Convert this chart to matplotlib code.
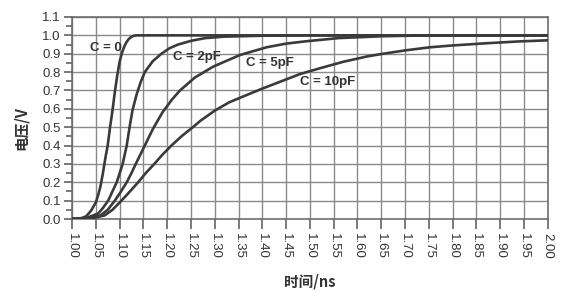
import matplotlib
matplotlib.use("Agg")
import matplotlib.pyplot as plt
from matplotlib.ticker import MultipleLocator, FormatStrFormatter

plt.rcParams['font.family'] = ['Liberation Sans', 'Noto Sans CJK SC', 'DejaVu Sans']

# values (time in ns, voltage in V)
t_c0 = [1.00, 1.02, 1.03, 1.04, 1.05, 1.055, 1.06, 1.065, 1.07, 1.075, 1.08, 1.085,
        1.09, 1.095, 1.10, 1.105, 1.11, 1.115, 1.12, 1.125, 1.13, 1.135, 2.00]
v_c0 = [0.0, 0.005, 0.015, 0.045, 0.09, 0.13, 0.18, 0.25, 0.33, 0.40, 0.50, 0.59,
        0.69, 0.78, 0.855, 0.905, 0.94, 0.965, 0.982, 0.992, 0.998, 1.0, 1.0]

t_c2 = [1.00, 1.03, 1.045, 1.055, 1.065, 1.076, 1.085, 1.094, 1.1065, 1.115, 1.121,
        1.127, 1.136, 1.145, 1.153, 1.17, 1.188, 1.205, 1.223, 1.25, 1.28, 1.32,
        1.40, 1.50, 2.00]
v_c2 = [0.0, 0.005, 0.02, 0.03, 0.06, 0.10, 0.15, 0.20, 0.30, 0.40, 0.50,
        0.59, 0.68, 0.75, 0.80, 0.86, 0.90, 0.93, 0.95, 0.97, 0.985, 0.993,
        0.998, 1.0, 1.0]

t_c5 = [1.00, 1.04, 1.06, 1.075, 1.09, 1.103, 1.115, 1.125, 1.134, 1.153, 1.17, 1.19,
        1.21, 1.227, 1.258, 1.297, 1.353, 1.409, 1.45, 1.493, 1.56, 1.65, 1.75, 2.00]
v_c5 = [0.0, 0.005, 0.02, 0.05, 0.10, 0.15, 0.20, 0.25, 0.30, 0.40, 0.49, 0.58,
        0.65, 0.70, 0.77, 0.83, 0.893, 0.935, 0.955, 0.968, 0.985, 0.995, 1.0, 1.0]

t_c10 = [1.00, 1.04, 1.069, 1.085, 1.104, 1.12, 1.139, 1.155, 1.173, 1.19, 1.209, 1.23,
         1.254, 1.27, 1.30, 1.33, 1.367, 1.40, 1.44, 1.48, 1.52, 1.57, 1.62, 1.654,
         1.70, 1.752, 1.80, 1.871, 1.94, 2.00]
v_c10 = [0.0, 0.003, 0.02, 0.05, 0.10, 0.145, 0.20, 0.25, 0.30, 0.35, 0.40, 0.45,
         0.50, 0.535, 0.59, 0.635, 0.675, 0.71, 0.75, 0.79, 0.82, 0.856, 0.885, 0.90,
         0.918, 0.935, 0.945, 0.957, 0.967, 0.973]

labels = ["C = 0", "C = 2pF", "C = 5pF", "C = 10pF"]
label_pos = [(1.072, 0.93), (1.263, 0.882), (1.415, 0.85), (1.538, 0.745)]

line_color = "#3a3a3a"
grid_color = "#8a8a8a"
text_color = "#333333"

fig = plt.figure(figsize=(5.76, 2.97), dpi=100)
ax = fig.add_axes([0.125, 0.2626, 0.826, 0.6802])
ax.set_axisbelow(True)

for t, v in [(t_c0, v_c0), (t_c2, v_c2), (t_c5, v_c5), (t_c10, v_c10)]:
    ax.plot(t, v, color=line_color, lw=1.9, solid_capstyle="round",
            solid_joinstyle="round", zorder=3)

for text, (x, y) in zip(labels, label_pos):
    ax.text(x, y, text, ha="center", va="center", fontsize=9.5, color=text_color,
            fontweight="bold", zorder=4)

ax.set_xlim(1.0, 2.0)
ax.set_ylim(0.0, 1.1)
ax.xaxis.set_major_locator(MultipleLocator(0.05))
ax.xaxis.set_major_formatter(FormatStrFormatter("%.2f"))
ax.yaxis.set_major_locator(MultipleLocator(0.1))
ax.yaxis.set_minor_locator(MultipleLocator(0.05))
ax.yaxis.set_major_formatter(FormatStrFormatter("%.1f"))

ax.grid(True, which="major", color=grid_color, lw=1.0)
for s in ax.spines.values():
    s.set_color("#666666")
    s.set_linewidth(1.1)

ax.tick_params(axis="x", which="major", direction="out", length=7, width=1.1,
               color="#555555", labelsize=9.5, labelcolor=text_color,
               labelrotation=270, pad=3)
ax.tick_params(axis="y", which="major", direction="out", length=6, width=1.1,
               color="#555555", labelsize=9.5, labelcolor=text_color, pad=2)
ax.tick_params(axis="y", which="minor", direction="out", length=4, width=1.1,
               color="#555555")

ax.set_xlabel("时间/ns", fontsize=10.5, color=text_color, family=["Noto Sans CJK SC", "DejaVu Sans"],
              fontweight="bold")
ax.set_ylabel("电压/V", fontsize=10.5, color=text_color, family=["Noto Sans CJK SC", "DejaVu Sans"],
              fontweight="bold")
ax.xaxis.set_label_coords(0.5, -0.27)
ax.yaxis.set_label_coords(-0.09, 0.45)

fig.savefig("out.png", dpi=100)
